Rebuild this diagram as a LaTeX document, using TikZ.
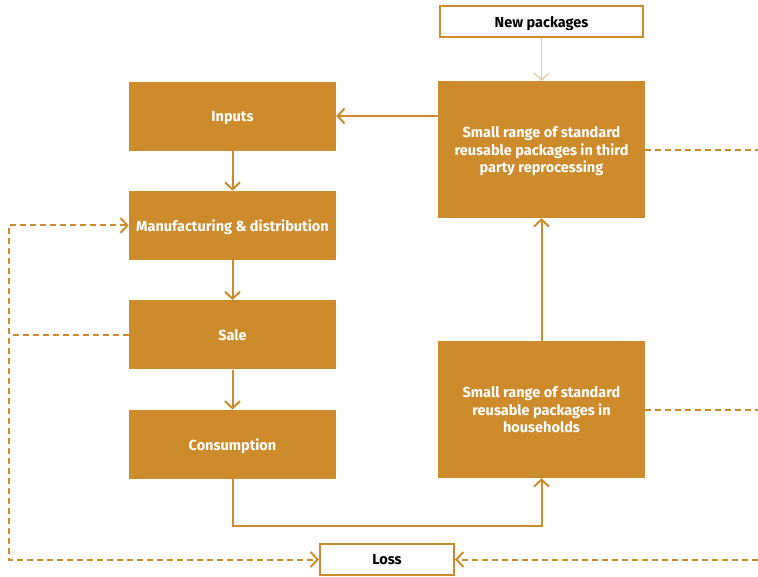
\documentclass[tikz,border=0pt]{standalone}
\usepackage{fontspec}
\setmainfont{Fira Sans}
\usetikzlibrary{positioning,arrows.meta}
\definecolor{ochre}{HTML}{CD8B2B}
\definecolor{paleochre}{HTML}{E9C79A}
\tikzset{
	chevron/.tip={Straight Barb[length=7pt,width=15pt]},
	box/.style={fill=ochre, text=white, font=\fontsize{14.5}{17.5}\selectfont\bfseries, minimum width=207pt, minimum height=69pt, align=center, inner sep=2pt, text depth=0pt},
	tallbox/.style={box, minimum height=137pt},
	whitebox/.style={draw=ochre, line width=2pt, fill=white, text=black, font=\fontsize{14.5}{17.5}\selectfont\bfseries, minimum height=31pt, inner sep=2pt, text depth=0pt},
	flow/.style={draw=ochre, line width=2pt, -chevron},
	lossline/.style={draw=ochre, line width=2pt, dash pattern=on 6pt off 4pt},
}
\begin{document}
\begin{tikzpicture}[x=1pt, y=-1pt, node distance=40pt]
	\useasboundingbox (0,0) rectangle (758,576);
	% Left column
	\node[box] (Inputs) at (232.5,116) {Inputs} ;
	\node[box, below=of Inputs] (Manufacturing) {Manufacturing \& distribution} ;
	\node[box, below=of Manufacturing] (Sale) {Sale} ;
	\node[box, below=of Sale] (Consumption) {Consumption} ;
	% Right column
	\node[whitebox, minimum width=203pt] (NewPackages) at (541.5,21.5) {New packages} ;
	\node[tallbox] (Reprocessing) at (541.5,149.5) {Small range of standard\\reusable packages in third\\party reprocessing} ;
	\node[tallbox] (Households) at (541.5,409.5) {Small range of standard\\reusable packages in\\households} ;
	% Bottom
	\node[whitebox, minimum width=134pt] (Loss) at (387,559.5) {Loss} ;
	\coordinate (LeftEdge) at (9,0) ;
	\coordinate (RightEdge) at (758,0) ;
	% Cycle
	\draw[flow] (Reprocessing.west |- Inputs.east) -- (Inputs.east) ;
	\draw[flow] (Inputs) -- (Manufacturing) ;
	\draw[flow] (Manufacturing) -- (Sale) ;
	\draw[flow] (Sale) -- (Consumption) ;
	\draw[flow] (Consumption.south) -- ++(0,47) -| (Households.south) ;
	\draw[flow] (Households) -- (Reprocessing) ;
	\draw[flow, draw=paleochre, line width=1.2pt] (NewPackages) -- (Reprocessing) ;
	% Losses
	\draw[lossline, chevron-chevron] (Manufacturing.west) -- (Manufacturing.west -| LeftEdge) -- (Loss.west -| LeftEdge) -- (Loss.west) ;
	\draw[lossline] (Sale.west) -- (Sale.west -| LeftEdge) ;
	\draw[lossline] (Reprocessing.east) -- (Reprocessing.east -| RightEdge) ;
	\draw[lossline] (Households.east) -- (Households.east -| RightEdge) ;
	\draw[lossline, -chevron] (Loss.east -| RightEdge) -- (Loss.east) ;
\end{tikzpicture}
\end{document}
